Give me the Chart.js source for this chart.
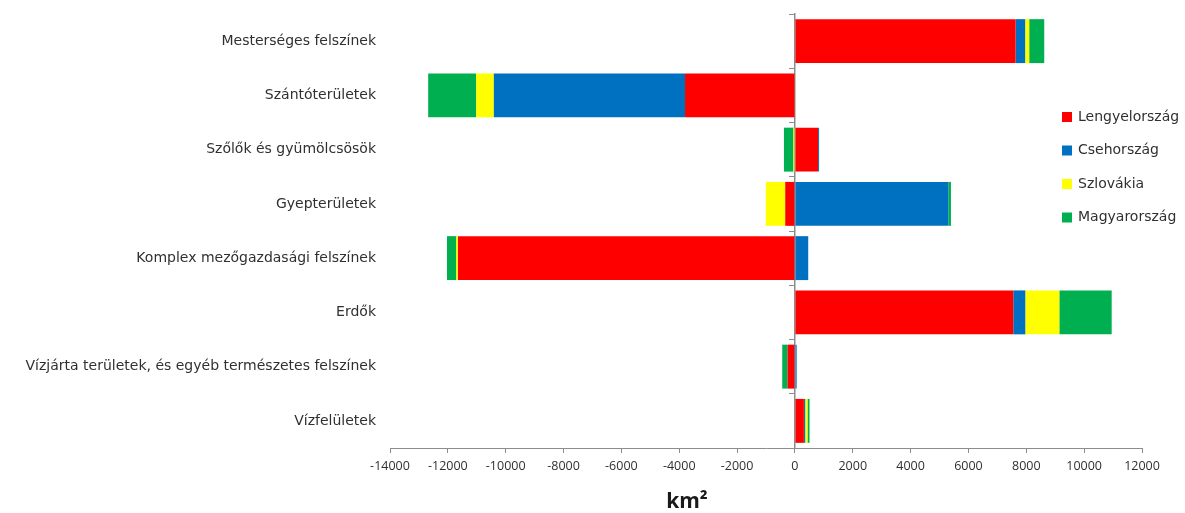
<!DOCTYPE html>
<html lang="hu">
<head>
<meta charset="utf-8">
<title>Felszínborítás változása</title>
<script src="https://cdn.jsdelivr.net/npm/chart.js@4.4.1/dist/chart.umd.min.js"></script>
<style>
  html, body { margin: 0; padding: 0; background: #ffffff; }
  #wrap { width: 1185px; height: 513px; position: relative; }
</style>
</head>
<body>
<div id="wrap"><canvas id="chart" width="1185" height="513"></canvas></div>
<script>
// Felszínborítási kategóriák
const categories = [
  'Mesterséges felszínek',
  'Szántóterületek',
  'Szőlők és gyümölcsösök',
  'Gyepterületek',
  'Komplex mezőgazdasági felszínek',
  'Erdők',
  'Vízjárta területek, és egyéb természetes felszínek',
  'Vízfelületek'
];

// Változás országonként (km²)
const lengyelorszag = [7630, -3800, 800, -335, -11650, 7550, -254, 310];
const csehorszag    = [330, -6610, 35, 5305, 460, 415, 60, 45];
const szlovakia     = [140, -610, -50, -670, -55, 1177, 0, 80];
const magyarorszag  = [520, -1660, -330, 90, -325, 1810, -185, 70];

const seriesNames = ['Lengyelország', 'Csehország', 'Szlovákia', 'Magyarország'];
const seriesColors = ['#FF0000', '#0070C0', '#FFFF00', '#00B050'];

// X tengely beosztás
const xMin = -14000;
const xMax = 12000;
const xStep = 2000;

const axisTitle = 'km²';
const textColor = '#303030';
const axisColor = '#8c8c8c';
const labelFont = '"DejaVu Sans", sans-serif';
const tickFont = '"Open Sans", sans-serif';

const seriesData = [lengyelorszag, csehorszag, szlovakia, magyarorszag];

// Jelmagyarázat a rajzterületen belül, jobb oldalon
const insideLegend = {
  id: 'insideLegend',
  afterDraw(chart) {
    const ctx = chart.ctx;
    ctx.save();
    ctx.font = '14px ' + labelFont;
    ctx.textBaseline = 'middle';
    ctx.textAlign = 'left';
    const x0 = 1062, y0 = 117, gap = 33.5;
    chart.data.datasets.forEach((ds, i) => {
      const y = y0 + i * gap;
      ctx.fillStyle = ds.backgroundColor;
      ctx.fillRect(x0, y - 5, 10, 10);
      ctx.fillStyle = textColor;
      ctx.fillText(ds.label, x0 + 16, y);
    });
    ctx.restore();
  }
};

// Tengelycím (km²) a vízszintes tengely alatt
const unitTitle = {
  id: 'unitTitle',
  afterDraw(chart) {
    const ctx = chart.ctx;
    ctx.save();
    ctx.font = 'bold 21px "Open Sans", sans-serif';
    ctx.fillStyle = '#1a1a1a';
    ctx.textAlign = 'center';
    ctx.textBaseline = 'alphabetic';
    ctx.fillText(axisTitle, 687, 508);
    ctx.restore();
  }
};

const noVerticalPadding = scale => { scale.paddingTop = 0; scale.paddingBottom = 0; };

new Chart(document.getElementById('chart'), {
  type: 'bar',
  data: {
    labels: categories,
    datasets: seriesData.map((d, i) => ({
      label: seriesNames[i],
      data: d,
      backgroundColor: seriesColors[i],
      borderWidth: 0,
      xAxisID: 'x',
      yAxisID: 'y',
      categoryPercentage: 0.9,
      barPercentage: 0.9
    }))
  },
  options: {
    indexAxis: 'y',
    responsive: false,
    animation: false,
    layout: { padding: { top: 14, right: 43, left: 0, bottom: 0 } },
    plugins: {
      legend: { display: false },
      tooltip: { enabled: false },
      title: { display: false }
    },
    scales: {
      x: {
        type: 'linear',
        stacked: true,
        min: xMin,
        max: xMax,
        position: 'bottom',
        ticks: {
          stepSize: xStep,
          color: textColor,
          font: { family: tickFont, size: 12.5 },
          padding: 6,
          maxRotation: 0,
          autoSkip: false,
          callback: v => String(v)
        },
        grid: { drawOnChartArea: false, drawTicks: true, tickLength: 5, color: axisColor },
        border: { display: true, color: axisColor, width: 1 },
        afterFit(scale) { scale.height = 513 - 448; }
      },
      y: {
        type: 'category',
        stacked: true,
        position: 'left',
        offset: true,
        ticks: {
          color: textColor,
          font: { family: labelFont, size: 14 },
          padding: 14,
          autoSkip: false
        },
        grid: { display: false, drawTicks: false },
        border: { display: false },
        afterFit(scale) { scale.width = 390; noVerticalPadding(scale); }
      },
      yZero: {
        type: 'category',
        axis: 'y',
        labels: categories,
        position: { x: 0 },
        offset: true,
        ticks: { display: false },
        grid: { offset: true, drawOnChartArea: false, drawTicks: true, tickLength: 5, color: axisColor },
        border: { display: true, color: axisColor, width: 1.5 },
        afterFit(scale) { noVerticalPadding(scale); }
      }
    }
  },
  plugins: [insideLegend, unitTitle]
});
</script>
</body>
</html>
